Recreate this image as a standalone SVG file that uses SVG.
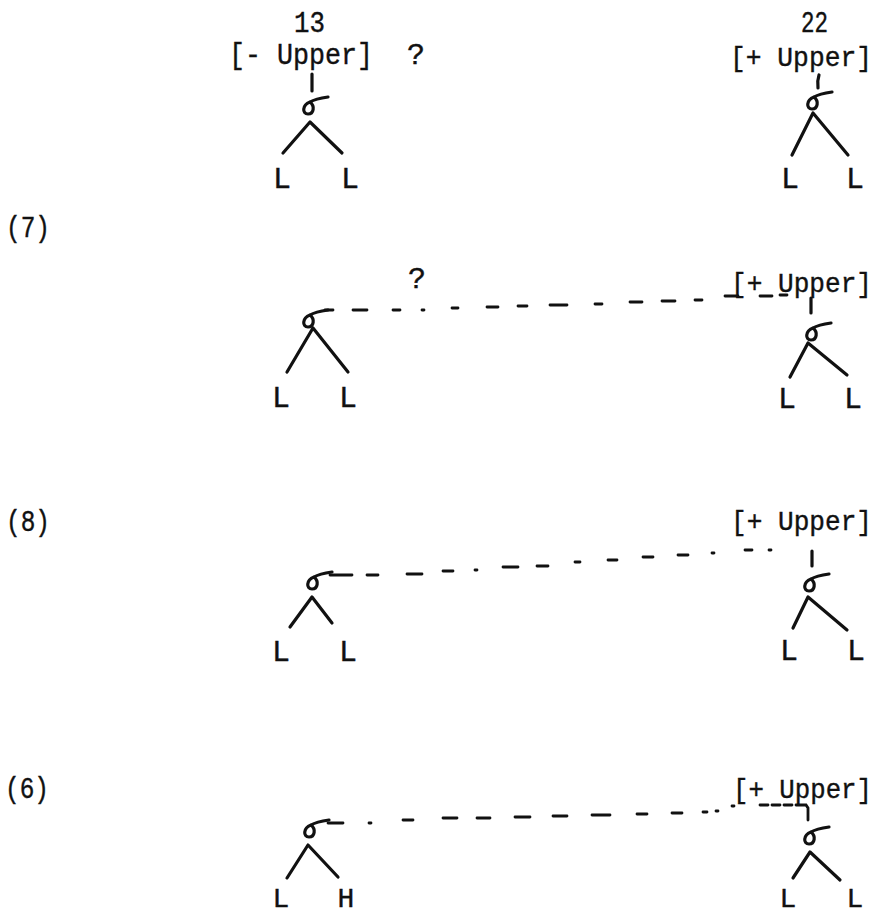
<svg xmlns="http://www.w3.org/2000/svg" width="882" height="915" viewBox="0 0 882 915">
<style>
  .t { font-family: "Liberation Mono", "DejaVu Sans Mono", monospace; font-size: 30px; fill: #111; stroke: #111; stroke-width: 0.4; }
  .r { font-size: 27.5px; }
  .m { text-anchor: middle; }
  .ln { stroke: #111; stroke-width: 3.2; fill: none; stroke-linecap: round; stroke-linejoin: round; }
  .ds { stroke: #111; stroke-width: 2.8; fill: none; stroke-linecap: round; }
</style>
<defs>
  <path id="sig" d="M 19,-10 C 12,-9 6,-8 1,-5 C -7,-2 -7,7 -1,7 C 5,7 6,-1 1,-5" class="ln"/>
</defs>
<rect width="882" height="915" fill="#fff"/>

<g id="labels">
  <text class="t" x="6" y="237" textLength="44" lengthAdjust="spacingAndGlyphs">(7)</text>
  <text class="t" x="6" y="531" textLength="44" lengthAdjust="spacingAndGlyphs">(8)</text>
  <text class="t" x="5" y="798" textLength="44" lengthAdjust="spacingAndGlyphs">(6)</text>
</g>

<g id="row1-left">
  <text class="t" x="294" y="32" textLength="31" lengthAdjust="spacingAndGlyphs">13</text>
  <text class="t" x="229" y="64" textLength="144" lengthAdjust="spacingAndGlyphs">[- Upper]</text>
  <text class="t m" x="416" y="64">?</text>
  <use href="#sig" x="309" y="107"/>
  <text class="t m" x="282" y="188">L</text>
  <text class="t m" x="350" y="188">L</text>
</g>
<g id="row1-right">
  <text class="t" x="801" y="32" textLength="27" lengthAdjust="spacingAndGlyphs">22</text>
  <text class="t r" x="730" y="66" textLength="142" lengthAdjust="spacingAndGlyphs">[+ Upper]</text>
  <use href="#sig" x="813" y="102"/>
  <text class="t m" x="790" y="188">L</text>
  <text class="t m" x="855" y="188">L</text>
</g>

<g id="row2-left">
  <text class="t m" x="417" y="288">?</text>
  <use href="#sig" x="309" y="320"/>
  <text class="t m" x="281" y="407">L</text>
  <text class="t m" x="348" y="407">L</text>
</g>
<g id="row2-right">
  <text class="t r" x="731" y="292" textLength="141" lengthAdjust="spacingAndGlyphs">[+ Upper]</text>
  <use href="#sig" x="812" y="333"/>
  <text class="t m" x="787" y="408">L</text>
  <text class="t m" x="853" y="408">L</text>
</g>

<g id="row3-left">
  <use href="#sig" x="313" y="582"/>
  <text class="t m" x="281" y="661">L</text>
  <text class="t m" x="348" y="661">L</text>
</g>
<g id="row3-right">
  <text class="t r" x="731" y="530" textLength="141" lengthAdjust="spacingAndGlyphs">[+ Upper]</text>
  <use href="#sig" x="810" y="584"/>
  <text class="t m" x="789" y="660">L</text>
  <text class="t m" x="856" y="660">L</text>
</g>

<g id="row4-left">
  <use href="#sig" x="310" y="830"/>
  <text class="t m" x="281" y="907" style="font-size:28px">L</text>
  <text class="t m" x="346" y="907" style="font-size:28px">H</text>
</g>
<g id="row4-right">
  <text class="t r" x="733" y="798" textLength="139" lengthAdjust="spacingAndGlyphs">[+ Upper]</text>
  <use href="#sig" x="810" y="837"/>
  <text class="t m" x="788" y="907" style="font-size:28px">L</text>
  <text class="t m" x="855" y="907" style="font-size:28px">L</text>
</g>

<g id="connectors">
  <path class="ln" d="M312,74 L312,91"/>
  <path class="ln" d="M819,75 Q817,81 818,88"/>
  <path class="ln" d="M811,298 L811,313"/>
  <path class="ln" d="M812,551 L812,566"/>
  <path class="ln" d="M283,153 L310,122 L342,153"/>
  <path class="ln" d="M792,155 L813,113 L848,155"/>
  <path class="ln" d="M287,372 L313,328 L348,372"/>
  <path class="ln" d="M790,377 L808,343 L847,375"/>
  <path class="ln" d="M290,627 L312,597 L332,623"/>
  <path class="ln" d="M793,628 L808,597 L847,630"/>
  <path class="ln" d="M287,878 L308,845 L338,877"/>
  <path class="ln" d="M793,878 L810,852 L840,880"/>
  <path class="ds" d="M325,310 L333,310 M353,310 L367,310 M393,310 L400,310 M422,310 L424,310 M452,308 L458,308 M487,307 L498,307 M518,306 L527,306 M550,305 L567,305 M595,304 L602,304 M630,302 L642,302 M662,301 L675,301 M695,300 L702,300 M725,296 L738,296 M760,296 L772,296 M780,295 L787,295"/>
  <path class="ds" d="M330,575 L352,575 M367,575 L378,575 M407,574 L422,574 M443,571 L453,571 M475,570 L477,570 M503,567 L518,567 M537,566 L548,566 M575,562 L580,562 M608,560 L617,560 M643,557 L653,557 M678,555 L688,555 M712,553 L714,553 M745,550 L752,550 M769,550 L771,550"/>
  <path class="ds" d="M328,823 L343,823 M369,823 L371,823 M403,820 L413,820 M443,818 L457,818 M477,818 L490,818 M515,817 L530,817 M553,816 L567,816 M592,815 L610,815 M637,814 L647,814 M672,813 L682,813 M703,812 L707,812 M716,811 L718,811 M732,806 L734,806 M760,805 L768,805 M772,805 L780,805 M784,805 L792,805 M796,805 L806,805 L808,808 L808,820"/>
</g>
</svg>
